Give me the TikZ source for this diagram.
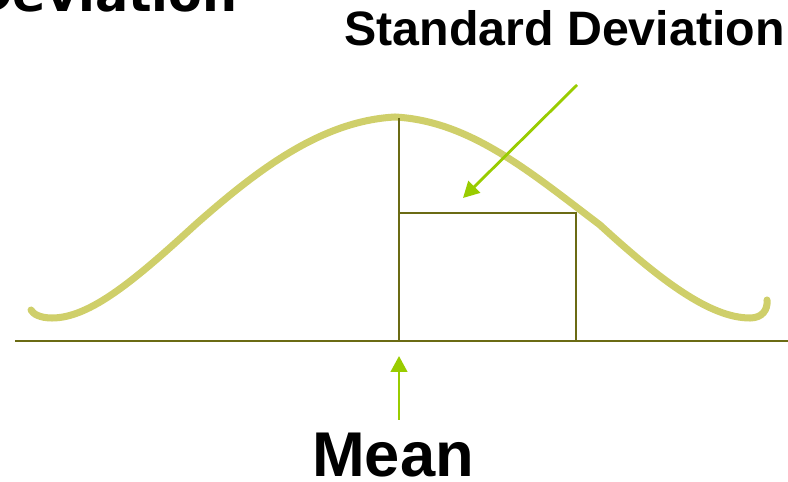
\documentclass[tikz,border=0pt]{standalone}
\usepackage{fontspec}
\setmainfont{Liberation Sans}
\newfontfamily\cutfont{DejaVu Sans}
\usetikzlibrary{arrows.meta,positioning}
\definecolor{bellgreen}{HTML}{CFCF6A}
\definecolor{olive}{HTML}{6B6B14}
\definecolor{lime}{HTML}{99CC00}

\begin{document}
\begin{tikzpicture}[x=0.02cm, y=-0.02cm,
  bell/.style={draw=bellgreen, line width=4pt, line cap=round},
  axisline/.style={draw=olive, line width=1.1pt},
  pointer/.style={-{Triangle[length=3.2mm, width=3.3mm]}, draw=lime, fill=lime, line width=1.6pt},
  biglabel/.style={font=\bfseries, inner sep=0pt, text depth=0pt}
]
\clip (0,0) rectangle (788,482);
\useasboundingbox (0,0) rectangle (788,482);
% bell curve
\draw[bell] (31,310) .. controls (33,314) and (40,318) .. (52,318)
  .. controls (90,318) and (135,280) .. (195,225)
  .. controls (255,172) and (320,121) .. (395,117)
  .. controls (470,121) and (530,172) .. (600,225)
  .. controls (660,280) and (710,318) .. (750,318)
  .. controls (762,318) and (768,310) .. (767,300);
% axes and sigma box
\coordinate (peak) at (399,118);
\coordinate (mid) at (399,341);
\coordinate (boxtl) at (399,213);
\coordinate (boxtr) at (576,213);
\coordinate (boxbr) at (576,341);
\coordinate (axisl) at (15,341);
\coordinate (axisr) at (788,341);
\draw[axisline] (axisl) -- (axisr);
\draw[axisline] (peak) -- (mid);
\draw[axisline] (boxtl) -- (boxtr) -- (boxbr);
% labels
\node[biglabel, font=\bfseries\fontsize{27.5}{32}\selectfont, anchor=base east] (sdlabel) at (785,46) {Standard Deviation};
\node[biglabel, font=\bfseries\fontsize{36}{42}\selectfont, anchor=base] (meanlabel) at (393,477) {Mean};
\node[biglabel, font=\cutfont\bfseries\fontsize{28}{32}\selectfont, anchor=base east] (cutlabel) at (238,12) {Deviation};
% pointers
\coordinate (sdtail) at (577,85);
\coordinate (sdtip) at (463,198);
\coordinate (meantail) at (399,420);
\coordinate (meantip) at (399,356);
\draw[pointer] (sdtail) -- (sdtip);
\draw[pointer] (meantail) -- (meantip);
\end{tikzpicture}
\end{document}
